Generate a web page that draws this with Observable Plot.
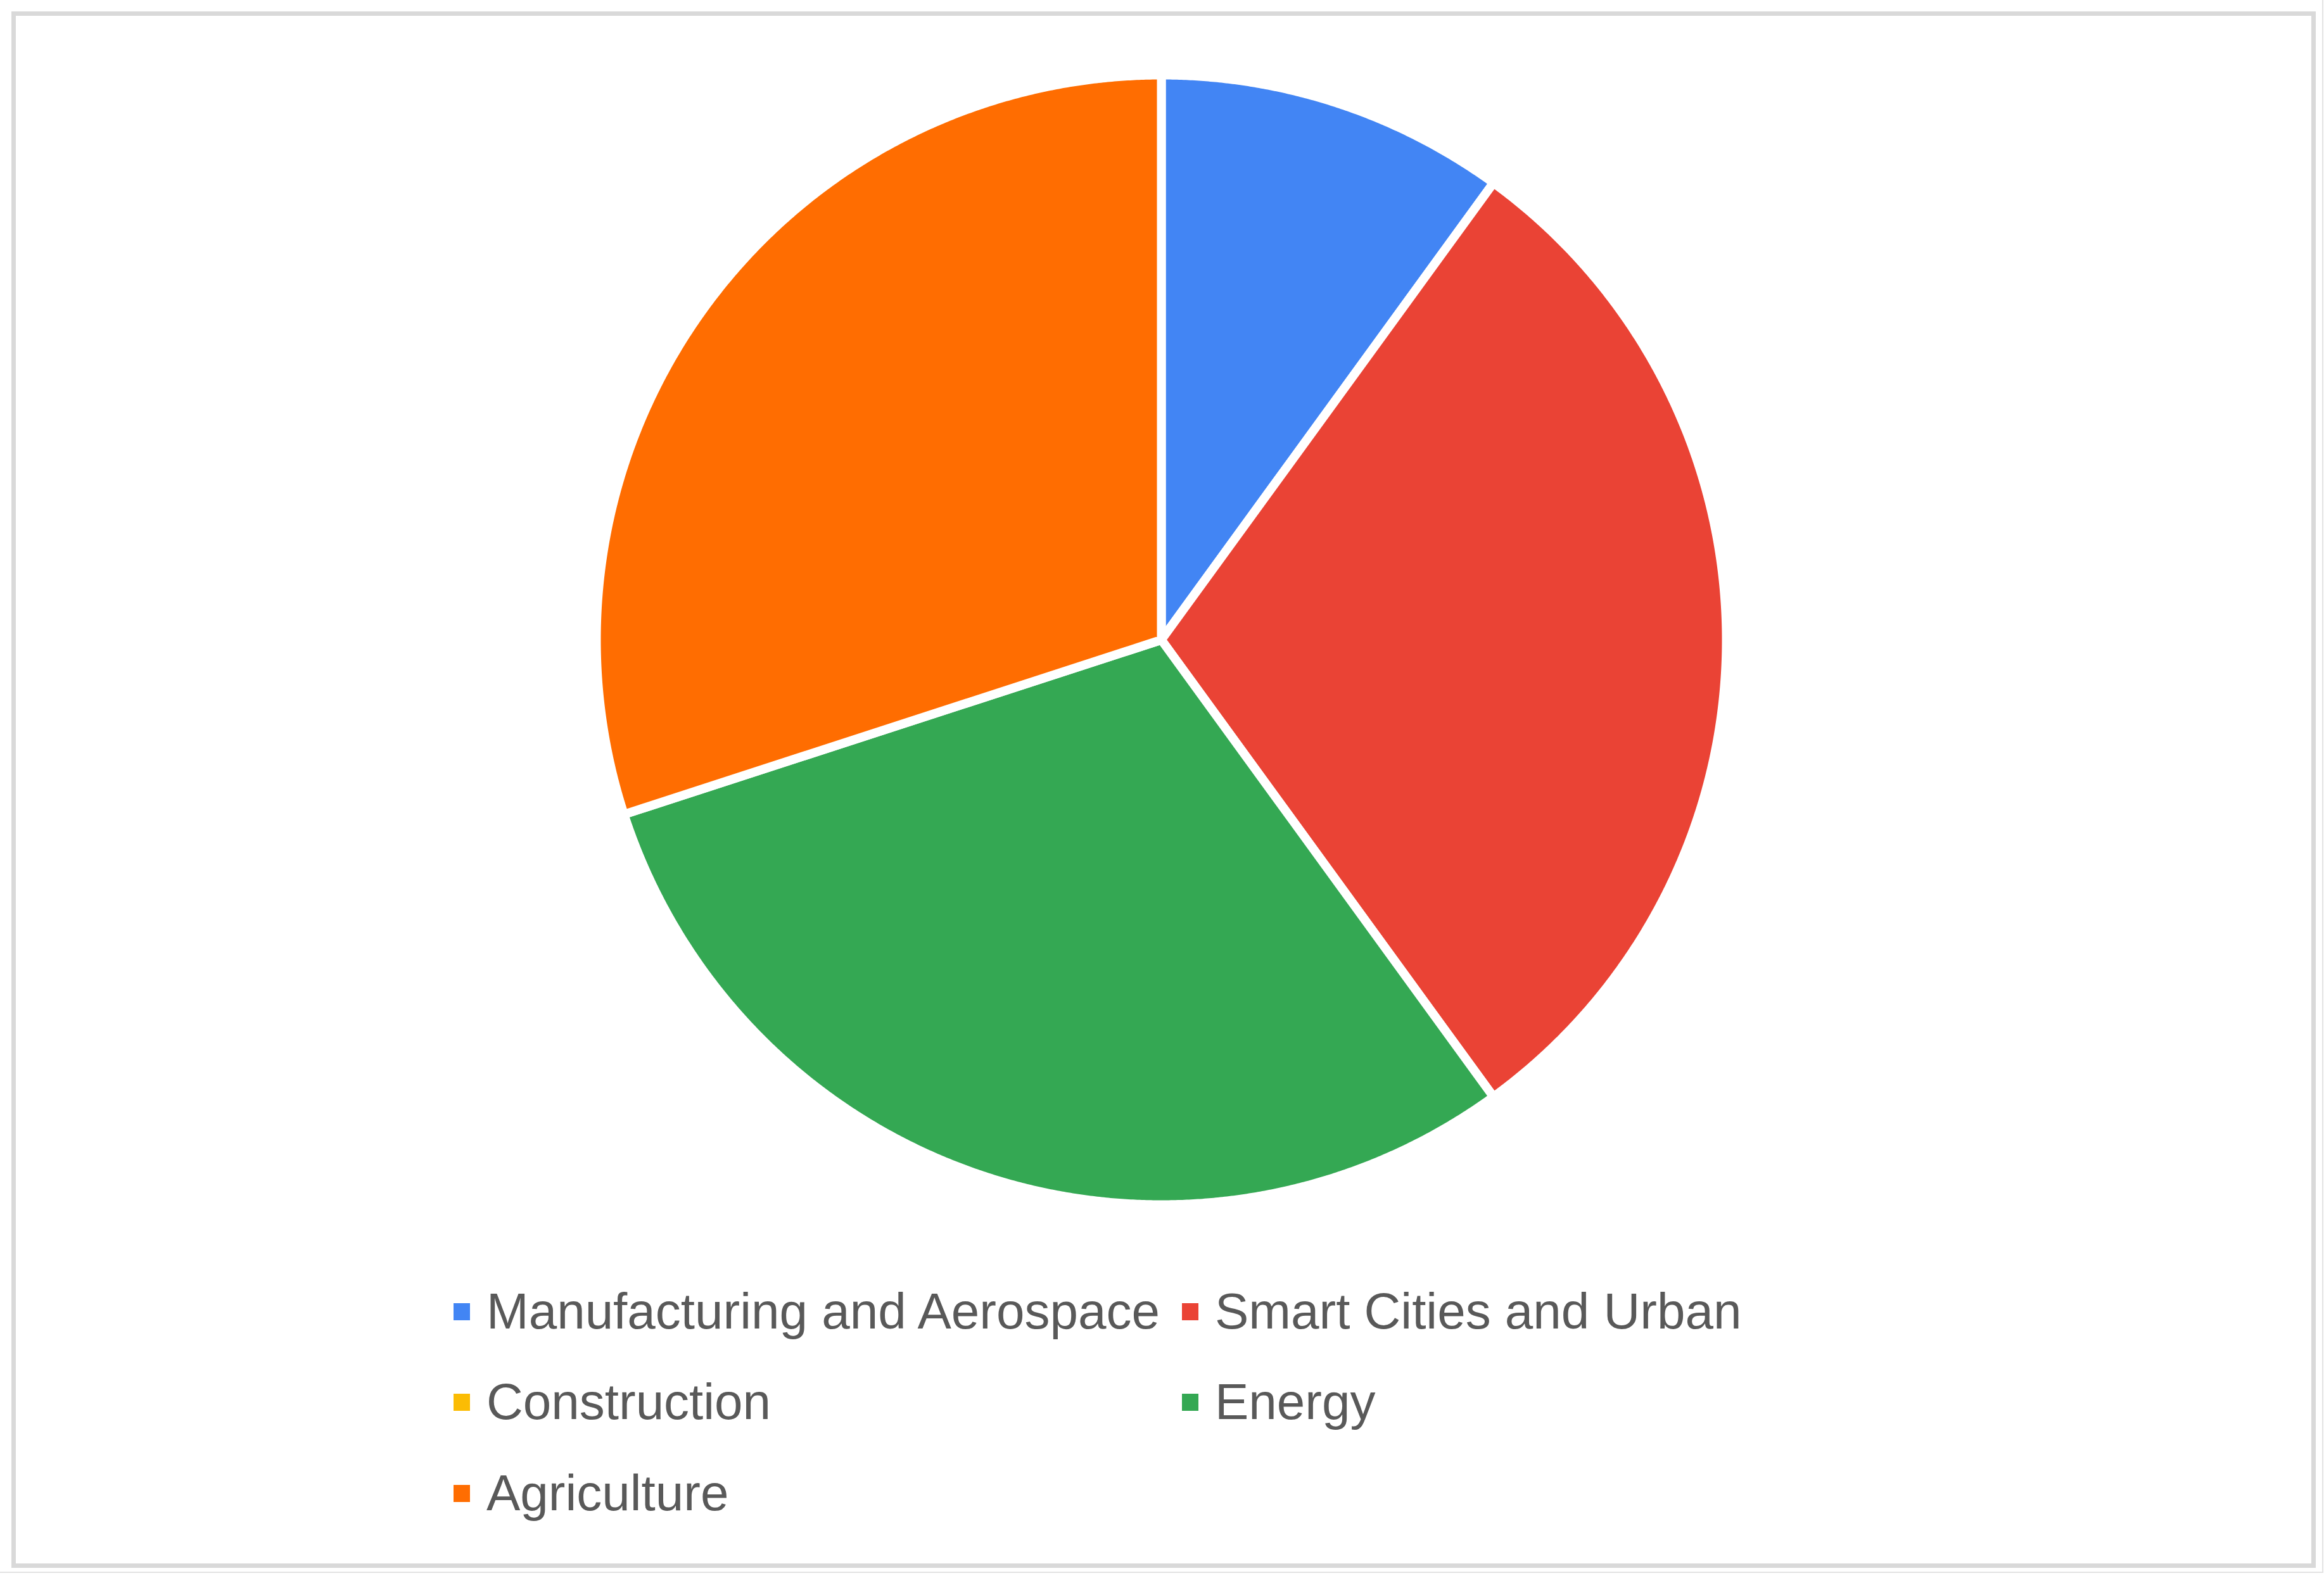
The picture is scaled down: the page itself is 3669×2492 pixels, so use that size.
<!DOCTYPE html>
<html>
<head>
<meta charset="utf-8">
<script src="https://cdn.jsdelivr.net/npm/d3@7"></script>
<script src="https://cdn.jsdelivr.net/npm/@observablehq/plot@0.6"></script>
<style>
  html, body { margin: 0; padding: 0; background: #fff; }
  body { width: 3669px; height: 2492px; position: relative; overflow: hidden; font-family: "Liberation Sans", Arial, sans-serif; }
  #shadow { position: absolute; left: 0; top: 0; width: 3666px; height: 2482px; border-right: 2px solid #e3e3e3; border-bottom: 2px solid #e3e3e3; box-sizing: content-box; }
  #frame { position: absolute; left: 18px; top: 18px; width: 3638px; height: 2458px; border: 7px solid #d9d9d9; box-sizing: border-box; background: #fff; }
  #chart { position: absolute; left: 0; top: 0; width: 3669px; height: 2492px; }
  #legend { position: absolute; left: 0; top: 0; width: 3669px; height: 2492px; pointer-events: none; }
  .item { position: absolute; display: flex; align-items: center; font-size: 80px; color: #595959; white-space: nowrap; line-height: 1; }
  .sw { width: 26px; height: 27px; margin-right: 26px; }
</style>
</head>
<body>
<div id="shadow"></div>
<div id="frame"></div>
<div id="chart"></div>
<div id="legend"></div>
<script>
// Data
const categories = ["Manufacturing and Aerospace", "Smart Cities and Urban", "Construction", "Energy", "Agriculture"];
const values = [10, 30, 0, 30, 30];
const colors = ["#4285f4", "#ea4335", "#fbbc04", "#34a853", "#ff6d01"];

// Layout
const cx = 1833, cy = 1010, R = 892, pad = 12;

// Pie geometry from data (clockwise from 12 o'clock)
const pie = d3.pie().sort(null).value(d => d.value)
  (categories.map((c, i) => ({category: c, value: values[i]})));

const pts = [];
for (const a of pie) {
  if (a.endAngle - a.startAngle <= 0) continue;
  const cat = a.data.category;
  pts.push({category: cat, x: 0, y: 0});
  const n = Math.max(2, Math.ceil((a.endAngle - a.startAngle) / 0.004));
  for (let k = 0; k <= n; k++) {
    const t = a.startAngle + (a.endAngle - a.startAngle) * k / n;
    pts.push({category: cat, x: Math.sin(t), y: Math.cos(t)});
  }
  pts.push({category: cat, x: 0, y: 0});
}

const size = 2 * R + 2 * pad;
const plot = Plot.plot({
  width: size,
  height: size,
  margin: pad,
  x: {domain: [-1, 1], axis: null},
  y: {domain: [-1, 1], axis: null},
  color: {domain: categories, range: colors},
  marks: [
    Plot.line(pts, {
      x: "x", y: "y", z: "category",
      fill: "category",
      stroke: "#ffffff",
      strokeWidth: 14,
      strokeLinejoin: "round",
      curve: "linear"
    })
  ]
});
plot.style.position = "absolute";
plot.style.maxWidth = "none";
plot.style.left = (cx - size / 2) + "px";
plot.style.top = (cy - size / 2) + "px";
plot.style.background = "transparent";
document.getElementById("chart").appendChild(plot);

// Legend (two columns, three rows)
const legend = document.getElementById("legend");
const colX = [716, 1866];
const rowY = [2031, 2174, 2318];
categories.forEach((c, i) => {
  const el = document.createElement("div");
  el.className = "item";
  el.style.left = colX[i % 2] + "px";
  el.style.top = rowY[Math.floor(i / 2)] + "px";
  const sw = document.createElement("div");
  sw.className = "sw";
  sw.style.background = colors[i];
  const tx = document.createElement("span");
  tx.textContent = c;
  el.appendChild(sw);
  el.appendChild(tx);
  legend.appendChild(el);
});
</script>
</body>
</html>
